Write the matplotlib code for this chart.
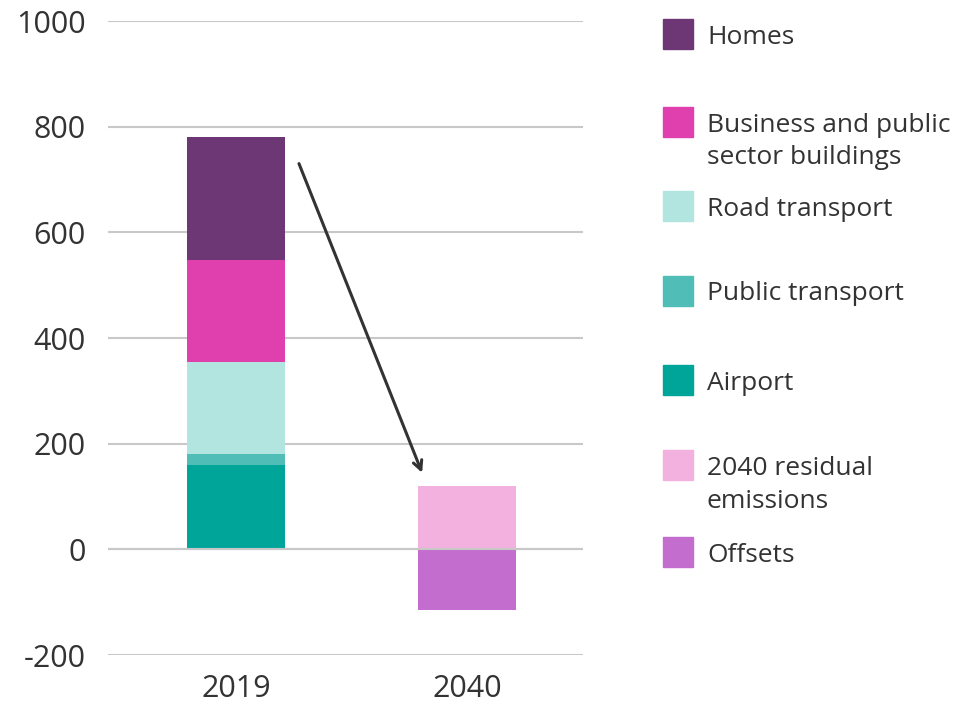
import numpy as np
import matplotlib.pyplot as plt
from matplotlib.patches import Rectangle

years = ['2019', '2040']
# stacked from the bottom up
labels = ['Airport', 'Public transport', 'Road transport',
          'Business and public\nsector buildings', 'Homes',
          '2040 residual\nemissions', 'Offsets']
airport = [160, 0]
public_transport = [20, 0]
road_transport = [175, 0]
business = [193, 0]
homes = [233, 0]
residual = [0, 120]
offsets = [0, -115]
colors = ['#00A59A', '#50BEB7', '#B2E5DF', '#E040AE', '#6D3674',
          '#F3B1DF', '#C36DCE']
yticks = [-200, 0, 200, 400, 600, 800, 1000]

plt.rcParams['font.family'] = ['Open Sans', 'DejaVu Sans']
txt = '#333333'

fig = plt.figure(figsize=(9.57, 7.05), dpi=100)
ax = fig.add_axes([0.1129, 0.0709, 0.4963, 0.8993])

x = np.arange(len(years))
w = 0.424
bottom = np.zeros(len(years))
for vals, col in zip([airport, public_transport, road_transport, business, homes, residual],
                     colors[:6]):
    ax.bar(x, vals, w, bottom=bottom, color=col, zorder=2)
    bottom += np.array(vals)
ax.bar(x, offsets, w, color=colors[6], zorder=2)

ax.set_ylim(-200, 1000)
ax.set_xlim(-0.554, 1.502)
ax.set_yticks(yticks)
ax.set_yticklabels([str(v) for v in yticks])
ax.set_xticks(x)
ax.set_xticklabels(years)
ax.grid(axis='y', color='#C8C8C8', lw=1.5, zorder=0)
ax.axhline(0, color='#C8C8C8', lw=1.5, zorder=3)
ax.set_axisbelow(True)
for s in ax.spines.values():
    s.set_visible(False)
ax.tick_params(axis='both', length=0, labelsize=22, colors=txt)
ax.tick_params(axis='y', pad=16)
ax.tick_params(axis='x', pad=14)

# arrow from 2019 total down to 2040
ax.annotate('', xy=(0.81, 140), xytext=(0.268, 735),
            arrowprops=dict(arrowstyle='->', color='#333333', lw=2.2,
                            mutation_scale=16), zorder=4)

# legend, top to bottom
leg_order = [4, 3, 2, 1, 0, 5, 6]
leg_y = [34, 122, 206, 291, 380, 465, 552]
W, H = 957, 705
for i, yc in zip(leg_order, leg_y):
    fig.add_artist(Rectangle((663 / W, 1 - (yc + 15) / H), 30 / W, 30 / H,
                             transform=fig.transFigure, color=colors[i]))
    nl = labels[i].count('\n')
    fig.text(707 / W, 1 - (yc + 9.5 + 33 * nl) / H, labels[i], fontsize=19,
             color=txt, va='baseline', ha='left', linespacing=1.37)

fig.savefig('out.png', dpi=100)
